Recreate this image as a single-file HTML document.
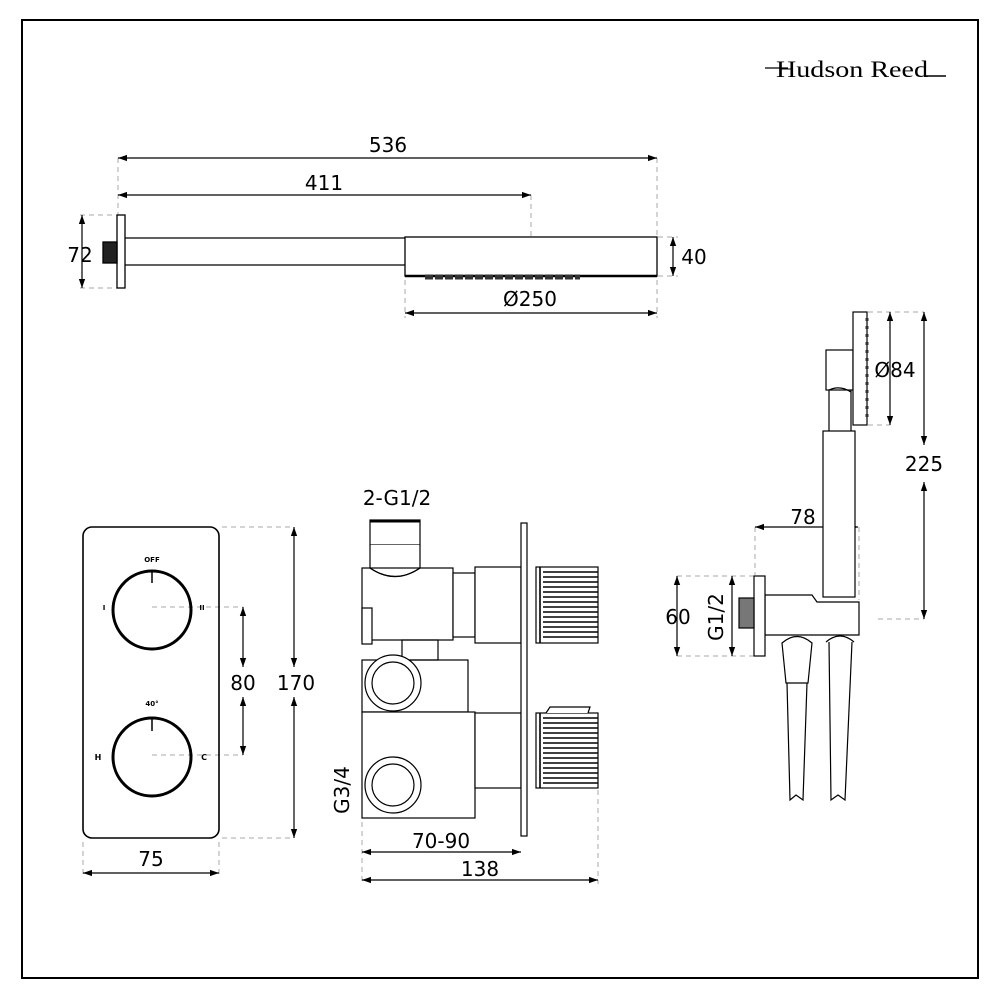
<!DOCTYPE html>
<html><head><style>body{margin:0;background:#fff}svg{display:block}</style></head>
<body>
<svg width="1000" height="1000" viewBox="0 0 1000 1000" xmlns="http://www.w3.org/2000/svg" font-family="'DejaVu Sans','Liberation Sans',sans-serif">
<defs>
<marker id="a" viewBox="0 0 10 10" refX="10" refY="5" markerWidth="9" markerHeight="9" orient="auto-start-reverse" markerUnits="userSpaceOnUse"><path d="M0,1.5 L10,5 L0,8.5 Z" fill="#000"/></marker>
</defs>
<rect x="0" y="0" width="1000" height="1000" fill="#fff"/>
<rect x="22" y="20" width="956" height="958" fill="none" stroke="#000" stroke-width="2"/>
<!-- logo -->
<text x="776" y="77" font-family="'Liberation Serif',serif" font-size="23" textLength="152" lengthAdjust="spacingAndGlyphs">Hudson Reed</text>
<line x1="765" y1="68" x2="788" y2="68" stroke="#000" stroke-width="1.3"/>
<line x1="926" y1="76" x2="946" y2="76" stroke="#000" stroke-width="1.5"/>

<g fill="none" stroke="#aaa" stroke-width="1" stroke-dasharray="5,4">
<line x1="118" y1="158" x2="118" y2="215"/><line x1="657" y1="158" x2="657" y2="236"/>
<line x1="531" y1="195" x2="531" y2="236"/>
<line x1="80" y1="215" x2="117" y2="215"/><line x1="80" y1="288" x2="117" y2="288"/>
<line x1="658" y1="237" x2="678" y2="237"/><line x1="658" y1="276" x2="678" y2="276"/>
<line x1="405" y1="280" x2="405" y2="318"/><line x1="657" y1="280" x2="657" y2="318"/>
<line x1="152" y1="607" x2="243" y2="607"/><line x1="152" y1="755" x2="243" y2="755"/>
<line x1="222" y1="527" x2="294" y2="527"/><line x1="222" y1="838" x2="294" y2="838"/>
<line x1="83" y1="842" x2="83" y2="878"/><line x1="219" y1="842" x2="219" y2="878"/>
<line x1="362" y1="822" x2="362" y2="884"/><line x1="598" y1="790" x2="598" y2="884"/>
<line x1="868" y1="312" x2="924" y2="312"/><line x1="868" y1="425" x2="890" y2="425"/>
<line x1="878" y1="619" x2="924" y2="619"/>
<line x1="755" y1="527" x2="755" y2="575"/><line x1="859" y1="527" x2="859" y2="600"/>
<line x1="677" y1="576" x2="754" y2="576"/><line x1="677" y1="656" x2="754" y2="656"/>
</g>

<g stroke="#000" stroke-width="1.2" fill="none" marker-start="url(#a)" marker-end="url(#a)">
<line x1="118" y1="158" x2="657" y2="158"/>
<line x1="118" y1="195" x2="531" y2="195"/>
<line x1="82" y1="215" x2="82" y2="288"/>
<line x1="673" y1="237" x2="673" y2="276"/>
<line x1="405" y1="313" x2="657" y2="313"/>
<line x1="243" y1="607" x2="243" y2="667"/>
<line x1="243" y1="697" x2="243" y2="755"/>
<line x1="294" y1="527" x2="294" y2="667"/>
<line x1="294" y1="697" x2="294" y2="838"/>
<line x1="83" y1="873" x2="219" y2="873"/>
<line x1="362" y1="852" x2="521" y2="852"/>
<line x1="362" y1="880" x2="598" y2="880"/>
<line x1="890" y1="312" x2="890" y2="425"/>
<line x1="924" y1="312" x2="924" y2="445"/>
<line x1="924" y1="482" x2="924" y2="619"/>
<line x1="755" y1="527" x2="858" y2="527"/>
<line x1="677" y1="576" x2="677" y2="656"/>
<line x1="732" y1="576" x2="732" y2="656"/>
</g>

<g font-size="20" fill="#000" text-anchor="middle">
<text x="388" y="152">536</text>
<text x="324" y="190">411</text>
<text x="80" y="262">72</text>
<text x="694" y="264">40</text>
<text x="530" y="306">Ø250</text>
<text x="243" y="690">80</text>
<text x="296" y="690">170</text>
<text x="151" y="866">75</text>
<text x="397" y="505">2-G1/2</text>
<text x="441" y="848">70-90</text>
<text x="480" y="876">138</text>
<text x="895" y="377">Ø84</text>
<text x="924" y="471">225</text>
<text x="803" y="524">78</text>
<text x="678" y="624">60</text>
<text transform="translate(723,617) rotate(-90)">G1/2</text>
<text transform="translate(349,790) rotate(-90)">G3/4</text>
</g>

<!-- shower arm -->
<g stroke="#000" stroke-width="1.3" fill="none">
<rect x="117" y="215" width="8" height="73" fill="#fff"/>
<rect x="103" y="242" width="14" height="21" fill="#222"/>
<line x1="125" y1="238" x2="406" y2="238"/>
<line x1="125" y1="265" x2="406" y2="265"/>
<rect x="405" y="237" width="252" height="39" fill="#fff"/>
<line x1="405" y1="276" x2="657" y2="276" stroke-width="2.5"/>
</g>
<path d="M425 277h155" stroke="#333" stroke-width="5" stroke-dasharray="8,2"/>

<!-- valve plate -->
<g stroke="#000" fill="none">
<rect x="83" y="527" width="136" height="311" rx="9" stroke-width="1.6"/>
<circle cx="152" cy="610" r="39" stroke-width="3"/>
<circle cx="152" cy="757" r="39" stroke-width="3"/>
<line x1="152" y1="570" x2="152" y2="583" stroke-width="1.5"/>
<line x1="152" y1="717" x2="152" y2="731" stroke-width="1.5"/>
</g>
<g font-size="7" font-weight="bold" text-anchor="middle" fill="#000">
<text x="152" y="562">OFF</text><text x="104" y="610">I</text><text x="202" y="610">II</text>
<text x="152" y="706">40°</text><text x="98" y="760" font-size="8">H</text><text x="204" y="760" font-size="8">C</text>
</g>

<!-- valve side -->
<g stroke="#000" stroke-width="1.2" fill="#fff">
<rect x="370" y="520" width="50" height="25"/>
<line x1="370" y1="521" x2="420" y2="521" stroke-width="3"/>
<path d="M370 545 V568 Q395 585 420 568 V545"/>
<rect x="362" y="568" width="91" height="72" fill="none"/>
<path d="M370 568 Q395 585 420 568" fill="none"/>
<rect x="453" y="573" width="22" height="64"/>
<rect x="475" y="567" width="46" height="76"/>
<rect x="362" y="608" width="10" height="36"/>
<rect x="362" y="660" width="106" height="52"/>
<rect x="362" y="712" width="113" height="106"/>
<rect x="402" y="640" width="36" height="20" fill="none"/>
<rect x="475" y="713" width="46" height="75"/>
<circle cx="393" cy="683" r="28"/><circle cx="393" cy="683" r="21"/>
<circle cx="393" cy="785" r="28"/><circle cx="393" cy="785" r="21"/>
<rect x="521" y="523" width="6" height="313"/>
<rect x="536" y="567" width="62" height="76"/>
<rect x="536" y="713" width="62" height="75"/>
<path d="M546 713 L550 707 L590 707 L588 713"/>
</g>
<g stroke="#000" stroke-width="1.6">
<line x1="540" y1="567" x2="540" y2="643"/><line x1="540" y1="713" x2="540" y2="788"/>
</g>
<g stroke="#000" stroke-width="1.4">
<path d="M543 572H598M543 577H598M543 582H598M543 587H598M543 592H598M543 597H598M543 602H598M543 607H598M543 612H598M543 617H598M543 622H598M543 627H598M543 632H598M543 637H598"/>
<path d="M543 718H598M543 723H598M543 728H598M543 733H598M543 738H598M543 743H598M543 748H598M543 753H598M543 758H598M543 763H598M543 768H598M543 773H598M543 778H598M543 783H598"/>
</g>

<!-- hand shower -->
<g stroke="#000" stroke-width="1.2" fill="#fff">
<rect x="829" y="388" width="22" height="44"/>
<rect x="826" y="350" width="27" height="40"/>
<path d="M829 390 Q840 385 851 392" fill="none"/>
<rect x="853" y="312" width="14" height="113"/>
<rect x="823" y="431" width="32" height="166"/>
<path d="M765 595 H812 L817 602 H859 V635 H765 Z"/>
<rect x="754" y="576" width="11" height="80"/>
<rect x="739" y="598" width="15" height="30" fill="#777"/>
<path d="M782 643 Q797 630 812 643 L808 683 H786 Z"/>
<path d="M826 642 Q840 630 854 642"/>
<path d="M787 683 L790 800 L796 795 L803 800 L807 683" fill="none"/>
<path d="M829 642 L831 800 L838 795 L845 800 L852 642" fill="none"/>
</g>
<line x1="867" y1="318" x2="867" y2="420" stroke="#333" stroke-width="3" stroke-dasharray="3,5"/>
</svg>
</body></html>
